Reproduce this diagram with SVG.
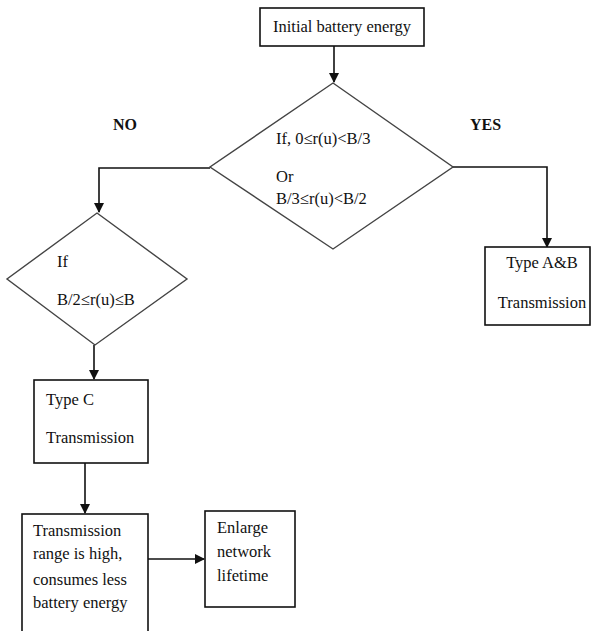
<svg xmlns="http://www.w3.org/2000/svg" width="595" height="631" viewBox="0 0 595 631">
<style>
.box{fill:#fff;stroke:#111;stroke-width:1.6}
.dia{fill:#fff;stroke:#444;stroke-width:1.4}
.t{font-family:"Liberation Serif","Times New Roman",serif;font-size:16.5px;fill:#111}
.b{font-weight:bold;font-size:16px}
.c{fill:none;stroke:#111;stroke-width:1.6}
</style>
<defs>
<marker id="ah" markerWidth="10" markerHeight="10" refX="9" refY="5" orient="auto" markerUnits="userSpaceOnUse">
<path d="M0,0 L10,5 L0,10 z" fill="#111"/>
</marker>
</defs>
<rect width="595" height="631" fill="#fff"/>
<g id="connectors">
<path class="c" d="M334,46 V82" marker-end="url(#ah)"/>
<path class="c" d="M453,167 H547 V247" marker-end="url(#ah)"/>
<path class="c" d="M210,168 H99 V212" marker-end="url(#ah)"/>
<path class="c" d="M94,345 V379" marker-end="url(#ah)"/>
<path class="c" d="M85,463 V513" marker-end="url(#ah)"/>
<path class="c" d="M148,559 H204" marker-end="url(#ah)"/>
</g>
<g id="start">
<rect class="box" x="260" y="8" width="164" height="38"/>
<text class="t" x="342" y="32" text-anchor="middle">Initial battery energy</text>
</g>
<g id="decision1">
<polygon class="dia" points="333,83 453,167 333,249 210,167"/>
<text class="t" x="276" y="144">If, 0≤r(u)&lt;B/3</text>
<text class="t" x="276" y="182">Or</text>
<text class="t" x="276" y="204">B/3≤r(u)&lt;B/2</text>
</g>
<g id="label-no"><text class="t b" x="113" y="130">NO</text></g>
<g id="label-yes"><text class="t b" x="470" y="130">YES</text></g>
<g id="typeAB">
<rect class="box" x="485" y="247" width="105" height="78"/>
<text class="t" x="542" y="268" text-anchor="middle">Type A&amp;B</text>
<text class="t" x="542" y="308" text-anchor="middle">Transmission</text>
</g>
<g id="decision2">
<polygon class="dia" points="97,213 187,279 95,345 7,279"/>
<text class="t" x="57" y="267">If</text>
<text class="t" x="57" y="305">B/2≤r(u)≤B</text>
</g>
<g id="typeC">
<rect class="box" x="34" y="380" width="114" height="83"/>
<text class="t" x="46" y="405">Type C</text>
<text class="t" x="46" y="443">Transmission</text>
</g>
<g id="range">
<rect class="box" x="22" y="514" width="126" height="130"/>
<text class="t" x="33" y="536">Transmission</text>
<text class="t" x="33" y="559">range is high,</text>
<text class="t" x="33" y="585">consumes less</text>
<text class="t" x="33" y="608">battery energy</text>
</g>
<g id="enlarge">
<rect class="box" x="205" y="511" width="90" height="96"/>
<text class="t" x="217" y="533">Enlarge</text>
<text class="t" x="217" y="557">network</text>
<text class="t" x="217" y="581">lifetime</text>
</g>
</svg>
